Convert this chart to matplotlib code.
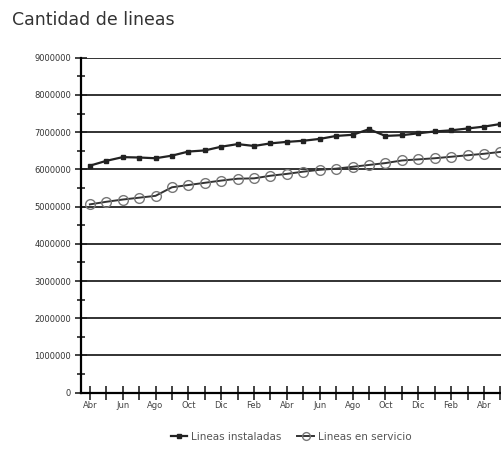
import numpy as np
import matplotlib.pyplot as plt
from matplotlib.ticker import MultipleLocator, FixedLocator

# meses (abril a abril, dos años) + un punto más al borde derecho
month_labels = ['Abr', 'Jun', 'Ago', 'Oct', 'Dic', 'Feb',
                'Abr', 'Jun', 'Ago', 'Oct', 'Dic', 'Feb', 'Abr']

instaladas = [6.10, 6.23, 6.33, 6.32, 6.30, 6.37, 6.48, 6.51, 6.61, 6.68,
              6.63, 6.70, 6.74, 6.77, 6.82, 6.90, 6.93, 7.08, 6.90, 6.92,
              6.97, 7.02, 7.05, 7.10, 7.15, 7.22]
en_servicio = [5.06, 5.13, 5.19, 5.24, 5.29, 5.52, 5.58, 5.64, 5.70, 5.75,
               5.76, 5.83, 5.88, 5.94, 5.99, 6.02, 6.07, 6.12, 6.17, 6.24,
               6.27, 6.30, 6.34, 6.38, 6.42, 6.47]

instaladas = np.array(instaladas) * 1e6
en_servicio = np.array(en_servicio) * 1e6
x = np.arange(len(instaladas))

fig = plt.figure(figsize=(5.02, 4.55), dpi=100)
ax = fig.add_axes([0.161, 0.137, 0.839, 0.736])

for v in range(1, 10):
    ax.axhline(v * 1e6, color='#222222', lw=1.3, zorder=1)

ax.plot(x, instaladas, color='#222222', lw=1.6, marker='s', ms=3.5,
        mfc='#222222', mec='#222222', label='Lineas instaladas', zorder=3)
ax.plot(x, en_servicio, color='#333333', lw=1.4, marker='o', ms=7,
        mfc='none', mec='#777777', mew=1.0, label='Lineas en servicio', zorder=3)

ax.set_xlim(-0.55, 25.1)
ax.set_ylim(0, 9e6)

ax.spines['top'].set_visible(False)
ax.spines['right'].set_visible(False)
ax.spines['left'].set_linewidth(1.6)
ax.spines['bottom'].set_linewidth(1.6)

ax.yaxis.set_major_locator(MultipleLocator(1e6))
ax.yaxis.set_minor_locator(MultipleLocator(5e5))
ax.set_yticklabels([f'{int(v)}' for v in ax.get_yticks()])
ax.xaxis.set_major_locator(FixedLocator(np.arange(0, 25, 2)))
ax.xaxis.set_minor_locator(FixedLocator(np.arange(0, 26, 1)))
ax.set_xticklabels(month_labels)

ax.tick_params(axis='both', which='both', direction='inout', color='#222222', width=1.2)
ax.tick_params(axis='y', which='major', length=8, labelsize=6, pad=3, labelcolor='#333333')
ax.tick_params(axis='y', which='minor', length=6)
ax.tick_params(axis='x', which='both', length=10, labelsize=6, pad=1, labelcolor='#444444')

fig.text(0.024, 0.955, 'Cantidad de lineas', fontsize=12.5, color='#333333',
         ha='left', va='center')

fig.legend(loc='center', bbox_to_anchor=(0.58, 0.04), ncol=2, frameon=False,
           fontsize=7.5, labelcolor='#555555', handlelength=1.6, columnspacing=1.5,
           handletextpad=0.4, markerscale=0.8)

fig.savefig('out.png', dpi=100)
